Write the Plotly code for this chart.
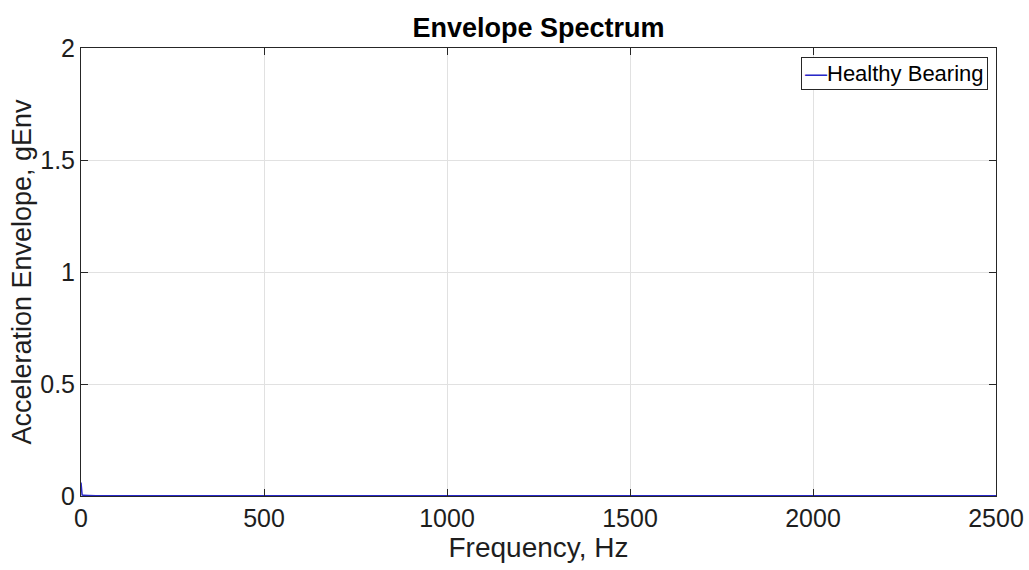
import plotly.graph_objects as go

# Envelope spectrum of the healthy bearing
freq_hz = [0, 1, 3, 6, 10, 20, 40, 80, 150, 300, 500, 750, 1000, 1250, 1500, 1750, 2000, 2250, 2500]
amp_genv = [0.06, 0.02, 0.005, 0.003, 0.002, 0.002, 0.001, 0.001, 0.001, 0.001, 0.001,
            0.001, 0.001, 0.001, 0.001, 0.001, 0.001, 0.001, 0.001]
series_name = "Healthy Bearing"

x_ticks = [0, 500, 1000, 1500, 2000, 2500]
y_ticks = [0, 0.5, 1, 1.5, 2]
y_tick_text = ["0", "0.5", "1", "1.5", "2"]

FONT = "Liberation Sans, Arial, sans-serif"
LINE_COLOR = "rgb(40,40,200)"
TXT = "rgb(30,30,30)"

fig = go.Figure()
fig.add_trace(go.Scatter(
    x=freq_hz, y=amp_genv, mode="lines", name=series_name,
    line=dict(color=LINE_COLOR, width=1.5), showlegend=False,
))

axis_common = dict(
    showline=True, linecolor="rgb(38,38,38)", linewidth=1, mirror="ticks",
    ticks="inside", ticklen=7, tickcolor="rgb(38,38,38)",
    showgrid=True, gridcolor="rgb(225,225,225)", gridwidth=1,
    zeroline=False, tickfont=dict(family=FONT, size=25, color=TXT),
    automargin=False,
)

fig.update_layout(
    width=1029, height=570,
    margin=dict(l=81, r=33, t=48, b=74),
    paper_bgcolor="white", plot_bgcolor="white",
    title=dict(text="<b>Envelope Spectrum</b>", x=(81 + 996) / 2 / 1029, xanchor="center",
               y=1 - 28 / 570, yanchor="middle",
               font=dict(family=FONT, size=27, color="black")),
    xaxis=dict(range=[0, 2500], tickvals=x_ticks, **axis_common,
               title=dict(text="Frequency, Hz", font=dict(family=FONT, size=28, color=TXT),
                          standoff=2)),
    yaxis=dict(range=[0, 2], tickvals=y_ticks, ticktext=y_tick_text, **axis_common,
               title=dict(text="Acceleration Envelope, gEnv",
                          font=dict(family=FONT, size=27, color=TXT), standoff=0)),
    showlegend=False,
    annotations=[dict(
        xref="paper", yref="paper", x=(988 - 81) / 915, y=(496 - 57) / 448,
        xanchor="right", yanchor="top",
        text=f"<span style='color:{LINE_COLOR}'>\u2014</span>{series_name}",
        showarrow=False, align="left",
        font=dict(family=FONT, size=22, color="black"),
        bgcolor="white", bordercolor="rgb(38,38,38)", borderwidth=1, borderpad=3,
    )],
)

fig.write_html("out.html")
